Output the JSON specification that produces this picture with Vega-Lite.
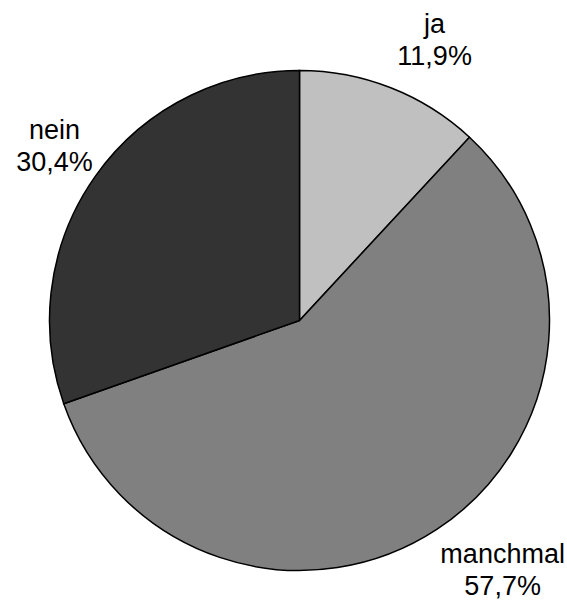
{
  "$schema": "https://vega.github.io/schema/vega-lite/v6.json",
  "autosize": "none",
  "width": 535,
  "height": 565,
  "padding": {"left": 32, "top": 38, "right": 0, "bottom": 0},
  "background": "white",
  "view": {"stroke": null},
  "data": {
    "values": [
      {"kategorie": "ja", "anteil": 11.9, "label": "ja\n11,9%"},
      {"kategorie": "manchmal", "anteil": 57.7, "label": "manchmal\n57,7%"},
      {"kategorie": "nein", "anteil": 30.4, "label": "nein\n30,4%"}
    ]
  },
  "encoding": {
    "theta": {"field": "anteil", "type": "quantitative", "stack": true}
  },
  "layer": [
    {
      "mark": {"type": "arc", "outerRadius": 250, "stroke": "black", "strokeWidth": 1.5},
      "encoding": {
        "color": {
          "field": "kategorie",
          "type": "nominal",
          "sort": ["ja", "manchmal", "nein"],
          "scale": {"domain": ["ja", "manchmal", "nein"], "range": ["#c0c0c0", "#808080", "#333333"]},
          "legend": null
        }
      }
    },
    {
      "mark": {
        "type": "text",
        "radius": 300,
        "fontSize": 27,
        "lineHeight": 32,
        "lineBreak": "\n",
        "font": "Liberation Sans",
        "fill": "black",
        "align": "center",
        "baseline": "middle",
        "dy": -16,
        "dx": {"expr": "max(0, 70 * sin(PI * (datum.anteil_start + datum.anteil_end) / 100))"}
      },
      "encoding": {
        "text": {"field": "label"},
        "detail": {"field": "kategorie", "type": "nominal", "sort": ["ja", "manchmal", "nein"]}
      }
    }
  ]
}
